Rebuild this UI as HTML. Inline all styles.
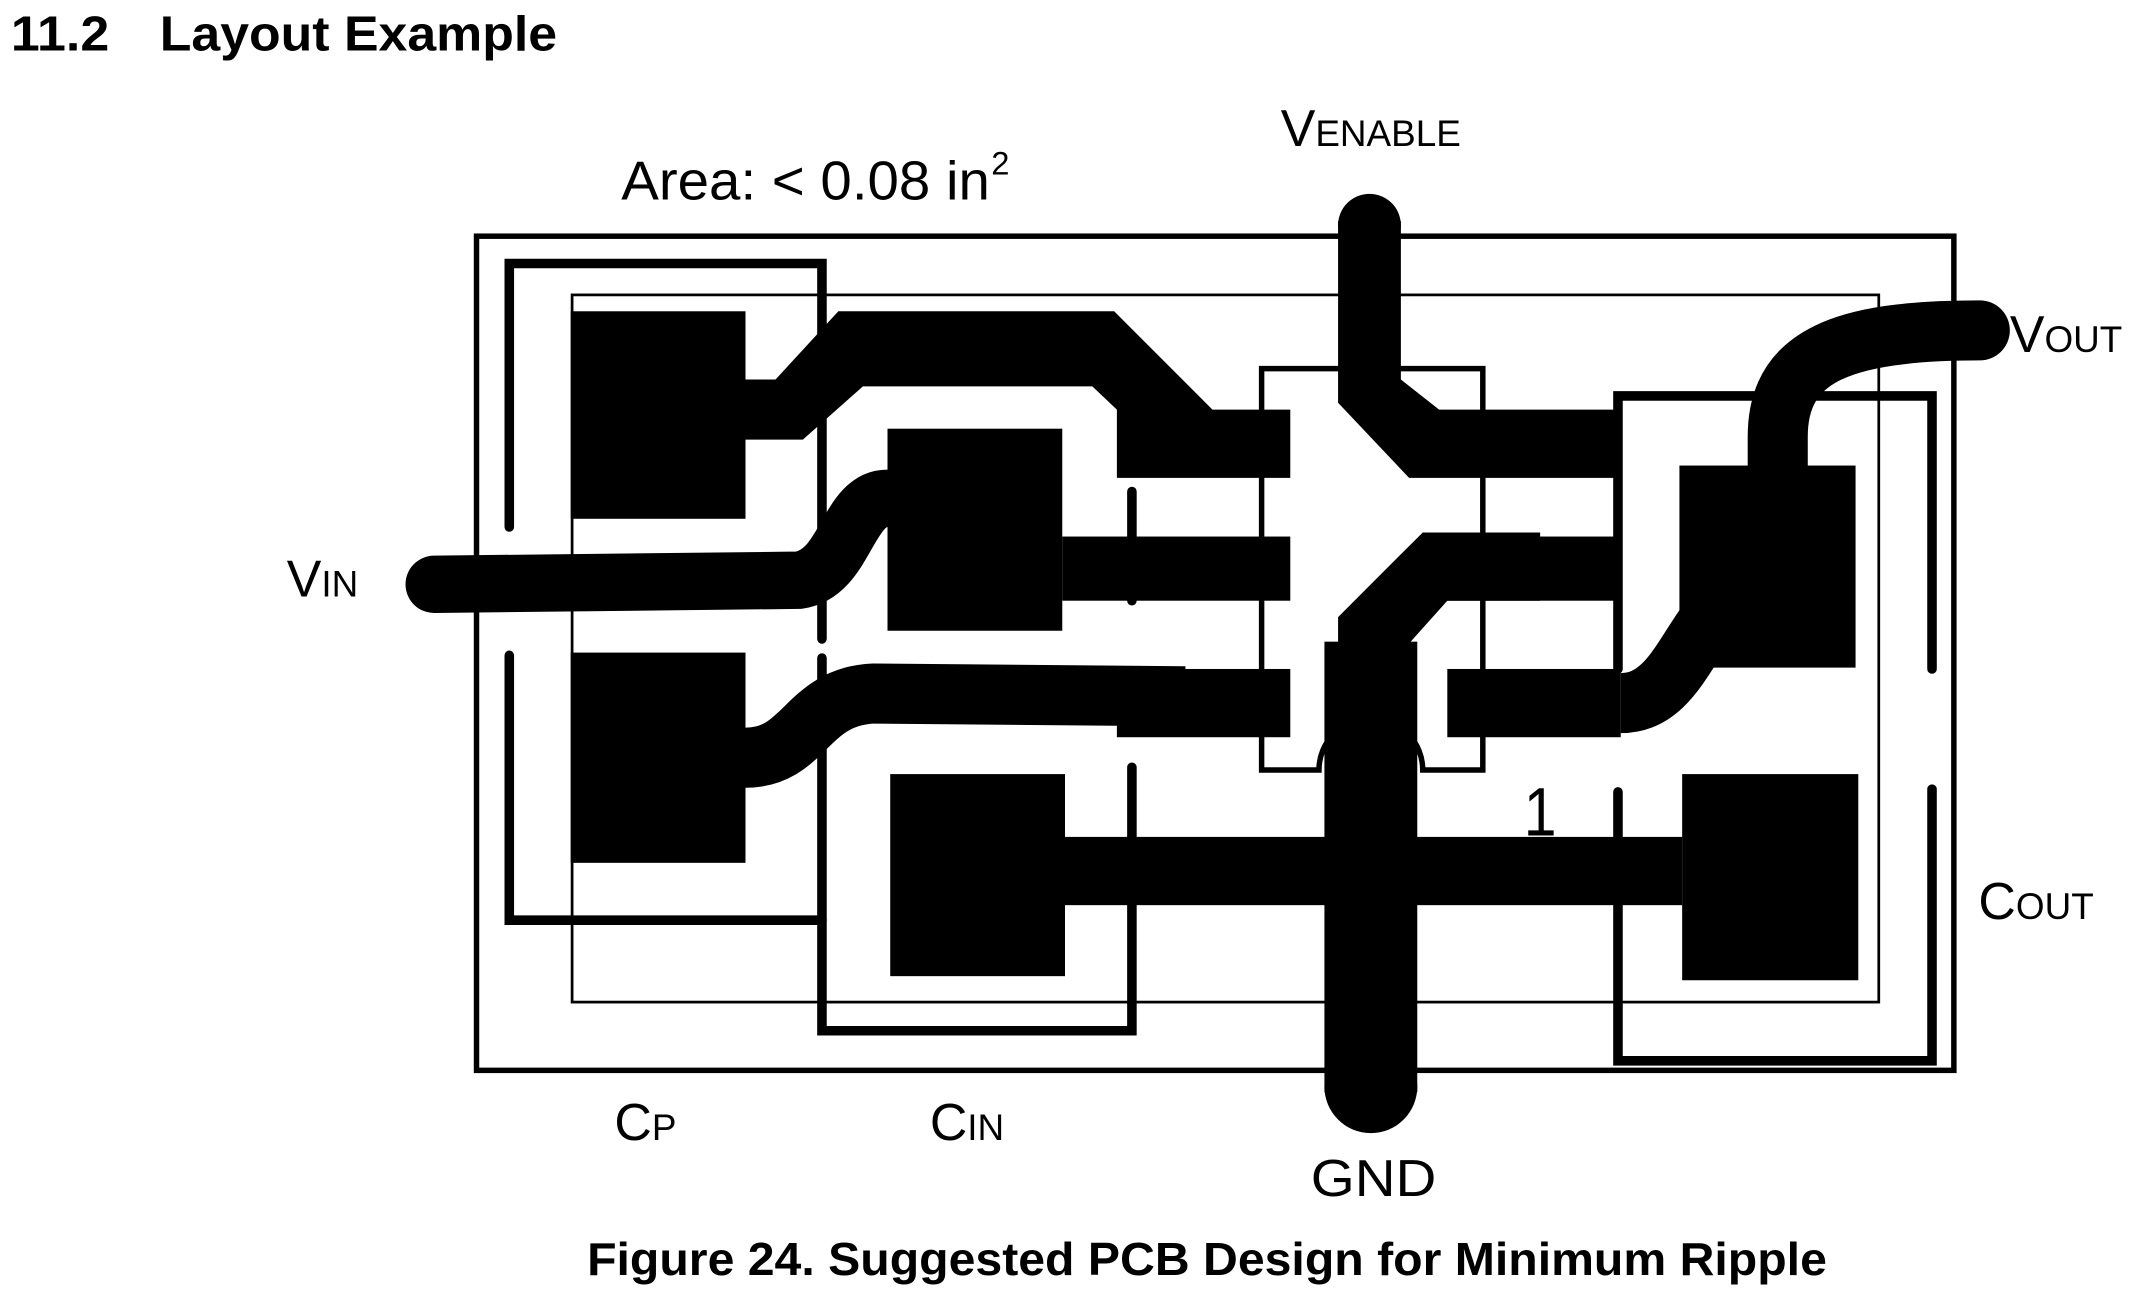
<!DOCTYPE html>
<html><head><meta charset="utf-8"><style>
html,body{margin:0;padding:0;background:#fff;}
svg{display:block;}
text{font-family:"Liberation Sans",Arial,sans-serif;fill:#000;}
</style></head><body>
<svg width="2130" height="1312" viewBox="0 0 1560 961" preserveAspectRatio="none">
<text x="8" y="37" font-size="36" font-weight="bold" textLength="72" lengthAdjust="spacingAndGlyphs">11.2</text>
<text x="117" y="37" font-size="36" font-weight="bold" textLength="291" lengthAdjust="spacingAndGlyphs">Layout Example</text>

<rect x="349" y="173" width="1082" height="611" fill="none" stroke="#000" stroke-width="4"/>
<rect x="419" y="216" width="957" height="518" fill="none" stroke="#000" stroke-width="2"/>

<g fill="none" stroke="#000" stroke-width="7" stroke-linecap="round">
<polyline points="373,386 373,193 602,193 602,468"/>
<polyline points="373,480 373,674 602,674"/>
<polyline points="602,482 602,755 829,755 829,562"/>
<line x1="829" y1="360" x2="829" y2="440"/>
<polyline points="1185,490 1185,290 1415,290 1415,490"/>
<polyline points="1415,578 1415,777 1185,777 1185,580"/>
</g>

<path d="M924,564 L924,270 L1086,270 L1086,564 L1042,564 A38,38 0 0 0 966,564 Z" fill="none" stroke="#000" stroke-width="4"/>

<g fill="#000">
<rect x="418" y="228" width="128" height="152"/>
<rect x="418" y="478" width="128" height="154"/>
<rect x="650" y="314" width="128" height="148"/>
<rect x="652" y="567" width="128" height="148"/>
<rect x="1230" y="341" width="129" height="148"/>
<rect x="1232" y="567" width="129" height="151"/>
</g>

<g fill="#000">
<polygon points="546,278 568,278 614,228 816,228 888,300 945,300 945,350 818,350 818,300 800,283 632,283 588,322 546,322"/>
<rect x="778" y="393" width="167" height="47"/>
<rect x="818" y="490" width="127" height="50"/>
<polygon points="980,162 1026,162 1026,278 1054,300 1187,300 1187,350 1032,350 980,295"/>
<polygon points="1042,390 1128,390 1128,440 1060,440 1026,478 1026,560 980,560 980,452"/>
<rect x="1040" y="393" width="147" height="47"/>
<rect x="1060" y="490" width="127" height="50"/>
<rect x="778" y="613" width="454" height="50"/>
<rect x="970" y="470" width="68" height="330"/>
<circle cx="1004" cy="796" r="34"/>
<circle cx="1003" cy="165" r="23"/>
</g>
<g fill="none" stroke="#000" stroke-linecap="round">
<path d="M318,428 L585,425 C620,420 620,365 650,365" stroke-width="42"/>
<path d="M546,555 C590,555 590,510 640,508 L868,510" stroke-width="44" stroke-linecap="butt"/>
<path d="M1302,342 L1302,320 C1302,260 1350,242 1450,242" stroke-width="44"/>
<path d="M1187,515 C1225,515 1235,470 1260,445" stroke-width="44" stroke-linecap="butt"/>
</g>

<text x="1116" y="612" font-size="50" textLength="24" lengthAdjust="spacingAndGlyphs">1</text>
<text x="455" y="146" font-size="40" textLength="270" lengthAdjust="spacingAndGlyphs">Area: &lt; 0.08 in</text>
<text x="726" y="128" font-size="24">2</text>
<text x="938" y="107" font-size="38">V<tspan font-size="27">ENABLE</tspan></text>
<text x="210" y="437" font-size="38">V<tspan font-size="27">IN</tspan></text>
<text x="1472" y="258" font-size="38">V<tspan font-size="27">OUT</tspan></text>
<text x="1449" y="673" font-size="38">C<tspan font-size="27">OUT</tspan></text>
<text x="450" y="835" font-size="38">C<tspan font-size="27">P</tspan></text>
<text x="681" y="835" font-size="38">C<tspan font-size="27">IN</tspan></text>
<text x="960" y="876" font-size="38" textLength="92" lengthAdjust="spacingAndGlyphs">GND</text>
<text x="430" y="934" font-size="34" font-weight="bold" textLength="908" lengthAdjust="spacingAndGlyphs">Figure 24.  Suggested PCB Design for Minimum Ripple</text>
</svg>
</body></html>
